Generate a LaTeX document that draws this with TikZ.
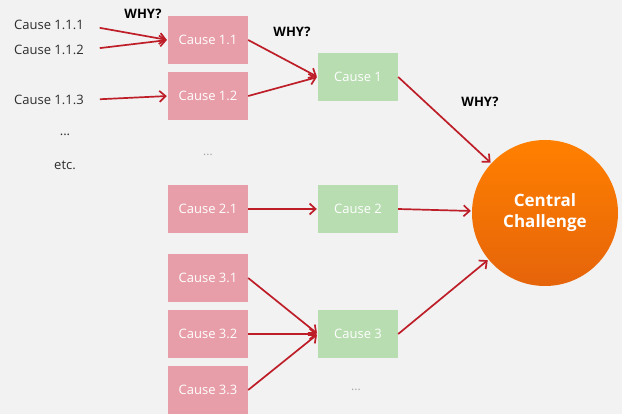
\documentclass[tikz,border=0pt]{standalone}
\usepackage{fontspec}
\setmainfont{Open Sans}
\usetikzlibrary{arrows.meta}
\definecolor{bggray}{RGB}{242,242,242}
\definecolor{causepink}{RGB}{232,158,168}
\definecolor{causegreen}{RGB}{183,221,176}
\definecolor{arrowred}{RGB}{190,30,40}
\definecolor{coreorange}{RGB}{255,128,0}
\definecolor{coredark}{RGB}{230,100,10}
\definecolor{textgray}{RGB}{45,45,45}

\begin{document}
\begin{tikzpicture}[
    x=1pt, y=-1pt,
    subbox/.style={rectangle, fill=causepink, text=white, minimum width=80pt, minimum height=48pt, font=\fontsize{13}{15}\selectfont},
    mainbox/.style={rectangle, fill=causegreen, text=white, minimum width=80pt, minimum height=48pt, font=\fontsize{13}{15}\selectfont},
    leaf/.style={anchor=west, text=textgray, inner sep=0pt, font=\fontsize{13}{15}\selectfont},
    why/.style={text=black, font=\bfseries\fontsize{13}{15}\selectfont},
    dots/.style={text=black!35, font=\fontsize{12}{14}\selectfont},
    link/.style={draw=arrowred, line width=1.7pt, shorten >=1pt, -{Straight Barb[length=6pt,width=11pt]}}
]
\useasboundingbox[fill=bggray] (0,0) rectangle (622,414);

% leaves
\node[leaf] (c111) at (14,25) {Cause 1.1.1};
\node[leaf] (c112) at (14,50) {Cause 1.1.2};
\node[leaf] (c113) at (14,100) {Cause 1.1.3};
\node[text=textgray, font=\fontsize{13}{15}\selectfont] (ldots) at (65,135) {...};
\node[text=textgray, font=\fontsize{13}{15}\selectfont] (etc) at (65,165) {etc.};

% sub causes
\node[subbox] (cause11) at (208,40) {Cause 1.1};
\node[subbox] (cause12) at (208,96) {Cause 1.2};
\node[dots] (subdots) at (208,155) {...};
\node[subbox] (cause21) at (208,209) {Cause 2.1};
\node[subbox] (cause31) at (208,278) {Cause 3.1};
\node[subbox] (cause32) at (208,334) {Cause 3.2};
\node[subbox] (cause33) at (208,390) {Cause 3.3};

% main causes
\node[mainbox] (cause1) at (358,77) {Cause 1};
\node[mainbox] (cause2) at (358,209) {Cause 2};
\node[mainbox] (cause3) at (358,334) {Cause 3};
\node[dots] (maindots) at (356,390) {...};

% central challenge
\node[circle, minimum size=146pt, top color=coreorange, bottom color=coredark, text=white,
      align=center, font=\bfseries\fontsize{17}{21}\selectfont] (cc) at (545,213) {Central\\Challenge};

% why labels
\node[why] (why1) at (143,14) {WHY?};
\node[why] (why2) at (292,32) {WHY?};
\node[why] (why3) at (480,102) {WHY?};

% arrows
\draw[link, shorten <=16pt] (c111.east) -- (cause11.west);
\draw[link, shorten <=16pt] (c112.east) -- (cause11.west);
\draw[link, shorten <=16pt] (c113.east) -- (cause12.west);
\draw[link] (cause11.east) -- (cause1.west);
\draw[link] (cause12.east) -- (cause1.west);
\draw[link] (cause21.east) -- (cause2.west);
\draw[link] (cause31.east) -- (cause3.west);
\draw[link] (cause32.east) -- (cause3.west);
\draw[link] (cause33.east) -- (cause3.west);
\draw[link] (cause1.east) -- (cc);
\draw[link] (cause2.east) -- (cc);
\draw[link] (cause3.east) -- (cc);
\end{tikzpicture}
\end{document}
